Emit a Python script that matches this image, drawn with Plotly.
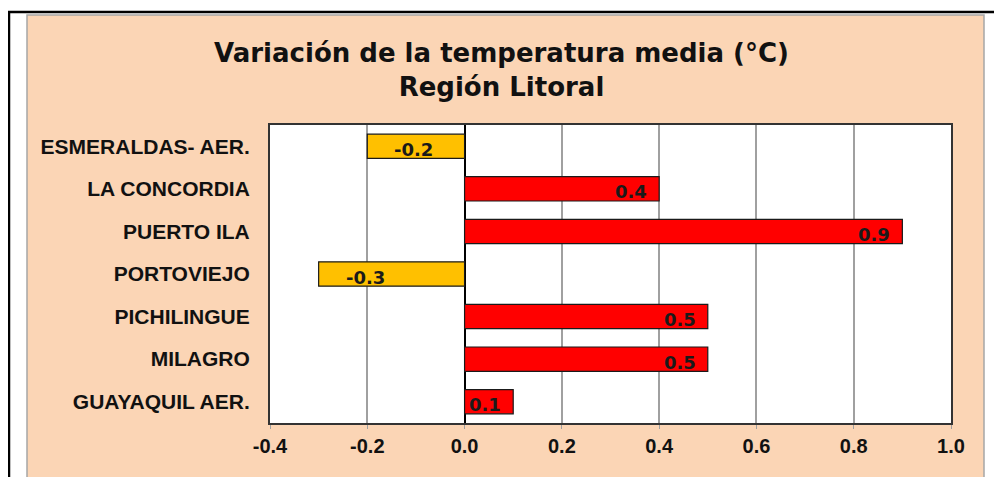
import plotly.graph_objects as go

# ---- data ----
stations = ["ESMERALDAS- AER.", "LA CONCORDIA", "PUERTO ILA", "PORTOVIEJO",
            "PICHILINGUE", "MILAGRO", "GUAYAQUIL AER."]
variation = [-0.2, 0.4, 0.9, -0.3, 0.5, 0.5, 0.1]
x_tick_values = [-0.4, -0.2, 0.0, 0.2, 0.4, 0.6, 0.8, 1.0]
x_tick_labels = ["-0.4", "-0.2", "0.0", "0.2", "0.4", "0.6", "0.8", "1.0"]
title_line1 = "Variación de la temperatura media (°C)"
title_line2 = "Región Litoral"

NEG_COLOR = "#FFC000"
POS_COLOR = "#FF0000"
bar_colors = [NEG_COLOR if v < 0 else POS_COLOR for v in variation]

# page has an 8px body margin; work in page pixels and convert
OFF = 8
W, H = 1002 - OFF, 477 - OFF
L, R, T, B = 270 - OFF, 951 - OFF, 125 - OFF, 423 - OFF  # plot area (figure px)


def px_x(p):  # page pixel -> paper x
    return (p - OFF - L) / (R - L)


def px_y(p):  # page pixel -> paper y
    return (B - (p - OFF)) / (B - T)


fig = go.Figure()
fig.add_trace(go.Bar(
    x=variation,
    y=stations,
    orientation="h",
    width=0.57,
    marker=dict(color=bar_colors, line=dict(color="#1a1a1a", width=1.2)),
    hoverinfo="x+y",
    showlegend=False,
))

# value labels placed inside the bar ends
annotations = []
for name, v in zip(stations, variation):
    annotations.append(dict(
        x=v, y=name, xref="x", yref="y",
        text=f"{v:.1f}", showarrow=False,
        xanchor="left" if v < 0 else "right",
        xshift=25 if v < 0 else -10,
        yshift=-3,
        font=dict(family="DejaVu Sans", size=18, color="#1a1a1a", weight="bold"),
    ))

shapes = [
    # peach chart area
    dict(type="rect", xref="paper", yref="paper",
         x0=px_x(27), x1=px_x(984), y0=px_y(495), y1=px_y(15),
         fillcolor="#FBD5B5", line=dict(color="#A6A6A6", width=1.5), layer="below"),
    # white plot area
    dict(type="rect", xref="paper", yref="paper",
         x0=0, x1=1, y0=0, y1=1,
         fillcolor="#FFFFFF", line=dict(width=0), layer="below"),
    # outer black frame lines
    dict(type="line", xref="paper", yref="paper",
         x0=px_x(8), x1=px_x(1010), y0=px_y(12), y1=px_y(12),
         line=dict(color="#000000", width=2.5)),
    dict(type="line", xref="paper", yref="paper",
         x0=px_x(9), x1=px_x(9), y0=px_y(12), y1=px_y(495),
         line=dict(color="#000000", width=2.5)),
]

fig.update_layout(
    width=W, height=H, autosize=False,
    margin=dict(l=L, r=W - R, t=T, b=H - B, pad=0),
    paper_bgcolor="#FFFFFF",
    plot_bgcolor="rgba(0,0,0,0)",
    shapes=shapes,
    annotations=annotations,
    title=dict(
        text=f"<b>{title_line1}<br>{title_line2}</b>",
        x=(501.5 - OFF) / W, xref="container", xanchor="center",
        y=1 - (62 - OFF) / H, yref="container", yanchor="middle",
        font=dict(family="DejaVu Sans", size=26, color="#111111"),
    ),
    xaxis=dict(
        range=[-0.4, 1.0],
        tickvals=x_tick_values,
        ticktext=x_tick_labels,
        showgrid=True, gridcolor="#A0A0A0", gridwidth=1.5,
        zeroline=True, zerolinecolor="#000000", zerolinewidth=2,
        showline=True, linecolor="#333333", linewidth=2, mirror=True,
        ticks="outside", ticklen=4, tickcolor="#A0A0A0",
        tickfont=dict(family="Liberation Sans", size=20, color="#111111", weight="bold"),
        fixedrange=True,
    ),
    yaxis=dict(
        autorange="reversed",
        showgrid=False, zeroline=False,
        showline=True, linecolor="#333333", linewidth=2, mirror=True,
        ticks="", ticklabelstandoff=14,
        tickfont=dict(family="Liberation Sans", size=21, color="#111111", weight="bold"),
        fixedrange=True,
    ),
    bargap=0.43,
)

fig.write_html("out.html")
